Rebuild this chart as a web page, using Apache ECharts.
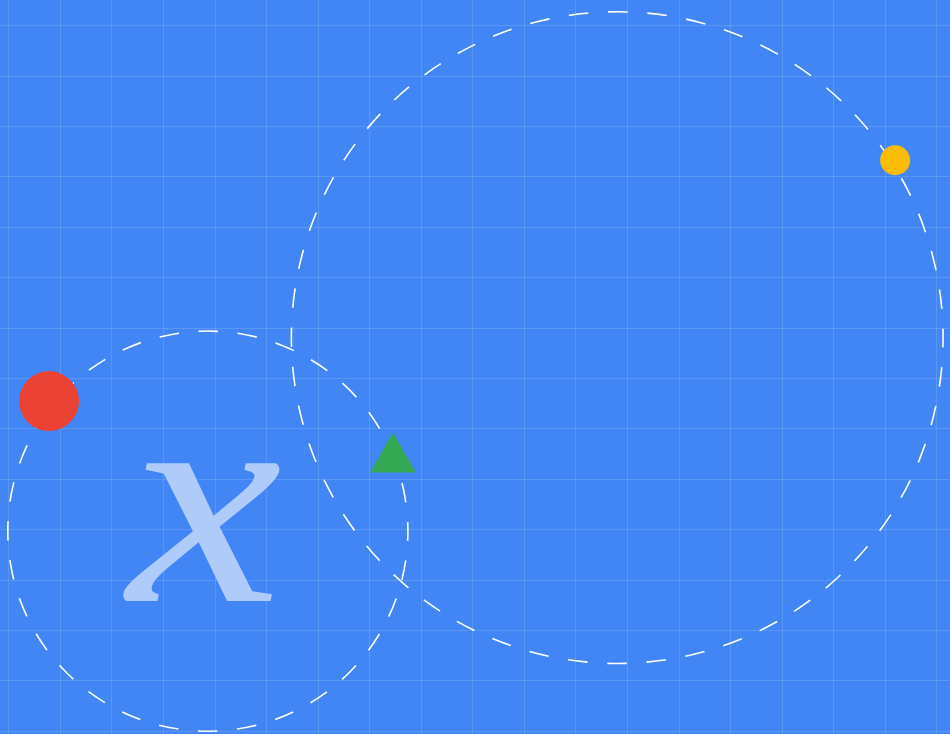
<!DOCTYPE html>
<html>
<head>
<meta charset="utf-8">
<script src="https://cdn.jsdelivr.net/npm/echarts@6/dist/echarts.min.js"></script>
<style>
html,body{margin:0;padding:0;background:#4285f4;overflow:hidden;}
#c{width:950px;height:734px;}
</style>
</head>
<body>
<div id="c"></div>
<script>
// Data (in grid-cell units)
const xRange = [-0.161, 18.264];
const yRange = [-0.5, 14.066];
const gridXs = [0, 1, 2, 3, 4, 5, 6, 7, 8, 9, 10, 11, 12, 13, 14, 15, 16, 17, 18];
const gridYs = [0, 1, 2, 3, 4, 5, 6, 7, 8, 9, 10, 11, 12, 13, 14];
const ringCenters = [[11.81, 6.2], [3.87, 10.04]];
const ringRadii = [6.32, 3.88];
const redDot = [[0.79, 7.46]];
const yellowDot = [[17.2, 2.68]];
const greenTriangle = [[7.46, 8.48]];
const glyphText = ['x'];
const glyphPos = [[3.81, 9.86]];

const ringData = ringCenters.map((c, i) => [c[0], c[1], ringRadii[i]]);
const gridStyle = {stroke: 'rgba(255,255,255,0.14)', lineWidth: 1};
const DASH_PERIOD = 39.4;

const chart = echarts.init(document.getElementById('c'), null, {renderer: 'canvas'});
chart.setOption({
  backgroundColor: '#4285f4',
  animation: false,
  grid: {left: 0, right: 0, top: 0, bottom: 0, containLabel: false},
  xAxis: {
    type: 'value', min: xRange[0], max: xRange[1],
    axisLine: {show: false}, axisTick: {show: false}, axisLabel: {show: false},
    splitLine: {show: false}
  },
  yAxis: {
    type: 'value', inverse: true, min: yRange[0], max: yRange[1],
    axisLine: {show: false}, axisTick: {show: false}, axisLabel: {show: false},
    splitLine: {show: false}
  },
  series: [
    {
      type: 'custom', data: gridXs, z: 1, silent: true,
      renderItem: function (params, api) {
        const a = api.coord([api.value(0), yRange[0]]);
        const b = api.coord([api.value(0), yRange[1]]);
        const x = Math.round(a[0]) + 0.5;
        return {type: 'line', shape: {x1: x, y1: a[1], x2: x, y2: b[1]}, style: gridStyle};
      }
    },
    {
      type: 'custom', data: gridYs, z: 1, silent: true,
      renderItem: function (params, api) {
        const a = api.coord([xRange[0], api.value(0)]);
        const b = api.coord([xRange[1], api.value(0)]);
        const y = Math.round(a[1]) + 0.5;
        return {type: 'line', shape: {x1: a[0], y1: y, x2: b[0], y2: y}, style: gridStyle};
      }
    },
    {
      type: 'custom',
      data: glyphPos.map((p) => [p[0], p[1]]),
      z: 2,
      renderItem: function (params, api) {
        const c = api.coord([api.value(0), api.value(1)]);
        return {
          type: 'text',
          x: c[0], y: c[1],
          scaleX: 1.16,
          style: {
            text: glyphText[params.dataIndex],
            font: 'italic 300px "Liberation Serif"',
            fill: '#aecbfa',
            align: 'center',
            verticalAlign: 'middle'
          }
        };
      }
    },
    {
      type: 'custom',
      data: ringData,
      z: 3,
      renderItem: function (params, api) {
        const c = api.coord([api.value(0), api.value(1)]);
        const r = api.size([api.value(2), 0])[0];
        const circ = 2 * Math.PI * r;
        const n = Math.max(4, Math.round(circ / DASH_PERIOD / 4) * 4);
        const p = circ / n;
        return {
          type: 'circle',
          shape: {cx: c[0], cy: c[1], r: r},
          style: {fill: 'none', stroke: '#ffffff', lineWidth: 1.6, lineDash: [p / 2, p / 2], lineDashOffset: p / 4}
        };
      }
    },
    {
      type: 'scatter', data: redDot, symbol: 'circle', symbolSize: 60, z: 4,
      itemStyle: {color: '#ea4335', opacity: 1}
    },
    {
      type: 'scatter', data: yellowDot, symbol: 'circle', symbolSize: 30, z: 4,
      itemStyle: {color: '#fbbc04', opacity: 1}
    },
    {
      type: 'scatter', data: greenTriangle, symbol: 'triangle', symbolSize: [46, 40], z: 4,
      itemStyle: {color: '#34a853', opacity: 1}
    }
  ]
});
</script>
</body>
</html>
